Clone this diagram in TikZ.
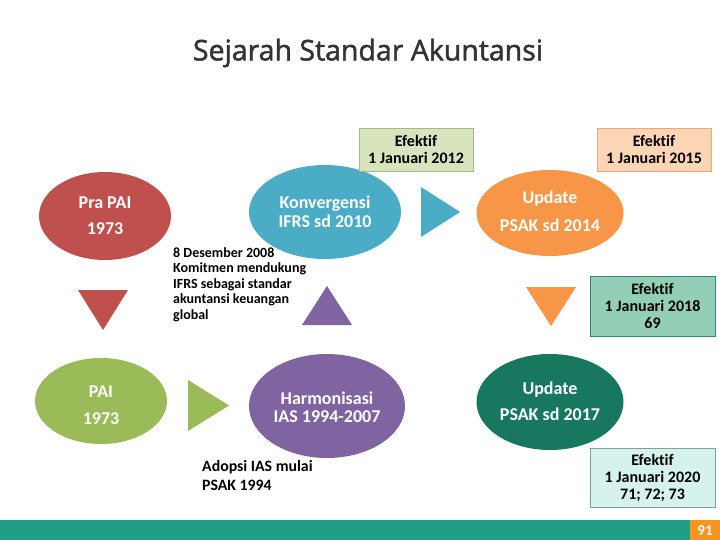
\documentclass[tikz,border=0pt]{standalone}
\usepackage{fontspec}
\setmainfont[Ligatures=NoCommon]{Carlito}
\newfontfamily\titlefont[FakeBold=1.6]{Open Sans}
\usetikzlibrary{shapes.geometric}
\definecolor{cRed}{HTML}{C0504D}
\definecolor{cGreen}{HTML}{9BBB59}
\definecolor{cBlue}{HTML}{4BACC6}
\definecolor{cPurple}{HTML}{8064A2}
\definecolor{cOrange}{HTML}{F79646}
\definecolor{cTeal}{HTML}{17775F}
\definecolor{cBar}{HTML}{1FA084}
\definecolor{cPage}{HTML}{F7941D}
\definecolor{bGreenF}{HTML}{D7E4BD}
\definecolor{bGreenD}{HTML}{A3B98A}
\definecolor{bOrangeF}{HTML}{FCD5B5}
\definecolor{bOrangeD}{HTML}{EFA777}
\definecolor{bTealF}{HTML}{92CFB6}
\definecolor{bTealD}{HTML}{2F8C72}
\definecolor{bCyanF}{HTML}{D5F2EC}
\definecolor{bCyanD}{HTML}{7FA09C}
\definecolor{cTitle}{HTML}{333333}
\tikzset{
  blob/.style={ellipse, inner sep=0pt, draw=none},
  wtext/.style={text=white, font=\bfseries\fontsize{18}{21}\selectfont, inner sep=0pt, anchor=base},
  efbox/.style={rectangle, line width=0.8pt, inner sep=0pt, align=center,
     font=\bfseries\fontsize{16}{17}\selectfont},
  note/.style={align=left, anchor=north west, inner sep=0pt, text=black},
}
\begin{document}
\begin{tikzpicture}[x=1pt,y=-1pt]
\useasboundingbox (0,0) rectangle (720,540);
\fill[white] (0,0) rectangle (720,540);
% title
\node[font=\titlefont\fontsize{28.5}{32}\selectfont, text=cTitle, inner sep=0pt] (title) at (368,53) {Sejarah Standar Akuntansi};

% ellipses
\node[blob, fill=cRed, minimum width=132pt, minimum height=88pt] (prapai) at (105,216) {};
\node[wtext] (prapai1) at (105,208) {Pra PAI};
\node[wtext] (prapai2) at (105,235) {1973};

\node[blob, fill=cGreen, minimum width=132pt, minimum height=86pt] (pai) at (101,401) {};
\node[wtext] (pai1) at (101,397) {PAI};
\node[wtext] (pai2) at (101,424) {1973};

\node[blob, fill=cBlue, minimum width=152pt, minimum height=94pt] (konv) at (325,212) {};
\node[wtext] (konv1) at (325,209) {Konvergensi};
\node[wtext] (konv2) at (325,228) {IFRS sd 2010};

\node[blob, fill=cPurple, minimum width=156pt, minimum height=104pt] (harm) at (327,406) {};
\node[wtext] (harm1) at (327,404) {Harmonisasi};
\node[wtext] (harm2) at (327,422) {IAS 1994-2007};

\node[blob, fill=cOrange, minimum width=147pt, minimum height=86pt] (upd14) at (550,213) {};
\node[wtext] (upd141) at (550,204) {Update};
\node[wtext] (upd142) at (550,231) {PSAK sd 2014};

\node[blob, fill=cTeal, minimum width=147pt, minimum height=96pt] (upd17) at (550,402) {};
\node[wtext] (upd171) at (550,394) {Update};
\node[wtext] (upd172) at (550,420) {PSAK sd 2017};

% triangles
\fill[cRed] (78,290) -- (128,290) -- (103,330) -- cycle;
\fill[cGreen] (188,380) -- (188,431) -- (229,405.5) -- cycle;
\fill[cBlue] (421,187) -- (421,237) -- (460,212) -- cycle;
\fill[cPurple] (302,325) -- (352,325) -- (327,286) -- cycle;
\fill[cOrange] (526,287) -- (576,287) -- (551,326) -- cycle;

% boxes
\node[efbox, fill=bGreenF, draw=bGreenD, minimum width=114pt, minimum height=43pt] (ef12) at (416,149.5) {Efektif\\1 Januari 2012};
\node[efbox, fill=bOrangeF, draw=bOrangeD, minimum width=114pt, minimum height=43pt] (ef15) at (654,149.5) {Efektif\\1 Januari 2015};
\node[efbox, fill=bTealF, draw=bTealD, minimum width=125pt, minimum height=60pt] (ef18) at (652.5,306) {Efektif\\1 Januari 2018\\69};
\node[efbox, fill=bCyanF, draw=bCyanD, minimum width=125pt, minimum height=59pt] (ef20) at (652.5,477.5) {Efektif\\1 Januari 2020\\71; 72; 73};

% notes
\node[note, font=\bfseries\fontsize{14}{15.5}\selectfont] (note08) at (173,247) {8 Desember 2008\\Komitmen mendukung\\IFRS sebagai standar\\akuntansi keuangan\\global};
\node[note, font=\bfseries\fontsize{15.8}{19}\selectfont] (note94) at (202,460) {Adopsi IAS mulai\\PSAK 1994};

% footer
\fill[cBar] (0,520) rectangle (690,540);
\fill[cPage] (690,520) rectangle (720,540);
\node[text=white, font=\bfseries\fontsize{15}{16}\selectfont, inner sep=0pt] (page) at (705,531) {91};
\end{tikzpicture}
\end{document}
